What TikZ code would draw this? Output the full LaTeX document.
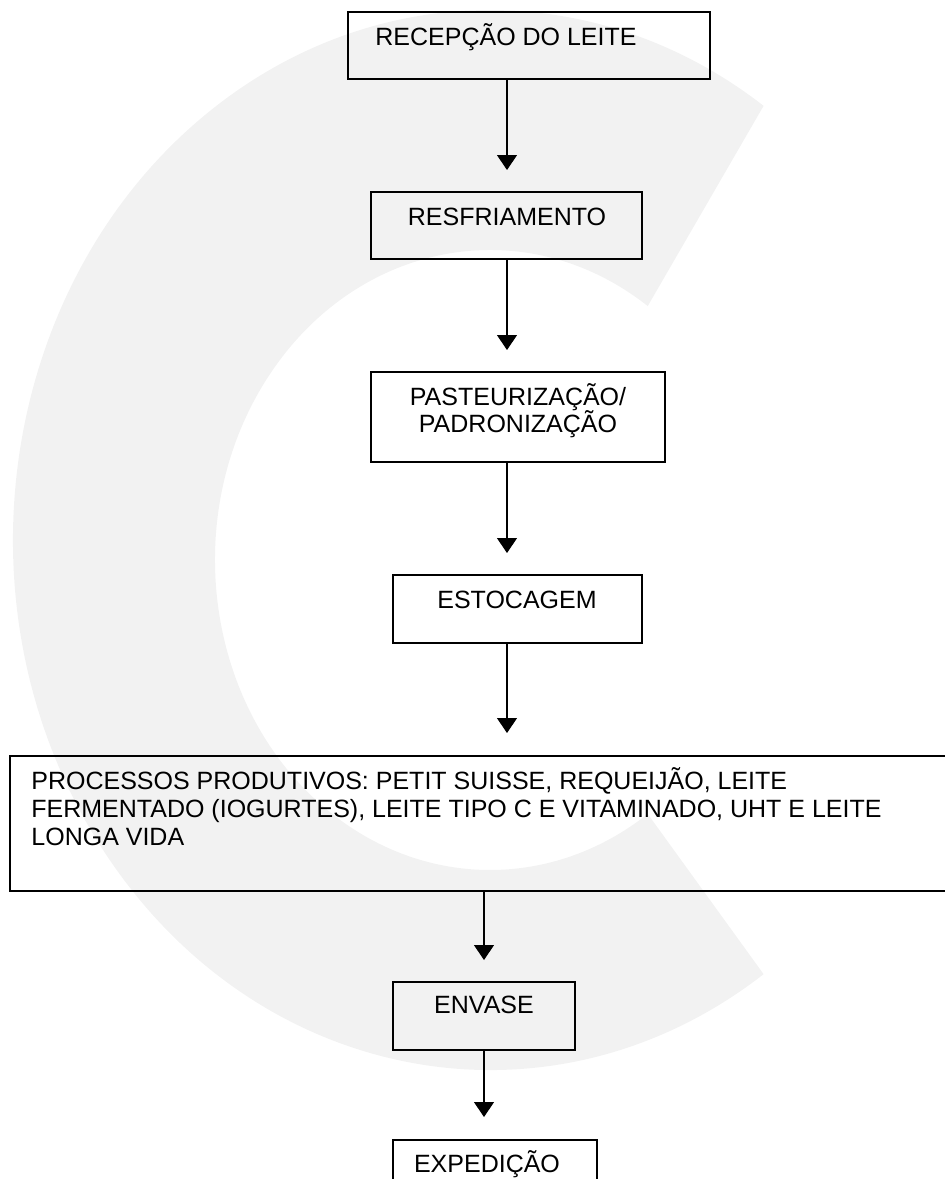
\documentclass[tikz,border=0pt]{standalone}
\usepackage{fontspec}
\setmainfont{Liberation Sans}
\usetikzlibrary{arrows.meta,calc}
\tikzset{
	etapa/.style 2 args={draw, line width=0.6pt, inner sep=0pt, minimum width=#1*0.5pt, minimum height=#2*0.5pt},
	rotulo/.style={font=\fontsize{12.5}{14}\selectfont, inner sep=0pt, anchor=base},
	seta/.style={line width=0.6pt, -{Triangle[width=10pt,length=7.5pt]}}
}
\begin{document}
\begin{tikzpicture}[x=0.5pt, y=-0.5pt, line join=miter]
	\useasboundingbox (0,0) rectangle (945,1179);
	% marca d'agua
	\fill[black!5] ($(490,540)+(55:477 and 530)$) arc[start angle=55, end angle=305, x radius=477, y radius=530]
		-- ($(490,560)+(305:275 and 310)$) arc[start angle=305, end angle=55, x radius=275, y radius=310] -- cycle;
	% caixas
	\node[etapa={362}{67}] (recepcao) at (529,45.5) {};
	\node[etapa={271}{67}] (resfriamento) at (506.5,225.5) {};
	\node[etapa={294}{90}] (pasteurizacao) at (518,417) {};
	\node[etapa={249}{68}] (estocagem) at (517.5,609) {};
	\node[etapa={950}{135}] (processos) at (485,823.5) {};
	\node[etapa={182}{68}] (envase) at (484,1016) {};
	\node[etapa={204}{68}] (expedicao) at (495,1174) {};
	% textos
	\node[rotulo] (t-recepcao) at (506,45) {RECEPÇÃO DO LEITE};
	\node[rotulo] (t-resfriamento) at (507,225) {RESFRIAMENTO};
	\node[rotulo] (t-pasteurizacao) at (518,405) {PASTEURIZAÇÃO/};
	\node[rotulo] (t-padronizacao) at (518,432) {PADRONIZAÇÃO};
	\node[rotulo] (t-estocagem) at (517,608) {ESTOCAGEM};
	\foreach \n/\y/\txt in {1/789/{PROCESSOS PRODUTIVOS: PETIT SUISSE, REQUEIJÃO, LEITE},
		2/817/{FERMENTADO (IOGURTES), LEITE TIPO C E VITAMINADO, UHT E LEITE},
		3/845/{LONGA VIDA}}{
		\node[rotulo, anchor=base west] (t-processos-\n) at (31,\y) {\txt};
	}
	\node[rotulo] (t-envase) at (484,1013) {ENVASE};
	\node[rotulo] (t-expedicao) at (487,1172) {EXPEDIÇÃO};
	% setas
	\path
	(507,170) coordinate (a1)
	(507,350) coordinate (a2)
	(507,553) coordinate (a3)
	(507,733) coordinate (a4)
	(484,960) coordinate (a5)
	(484,1117) coordinate (a6)
	;
	\draw[seta] (recepcao.south -| a1) -- (a1);
	\draw[seta] (resfriamento.south -| a2) -- (a2);
	\draw[seta] (pasteurizacao.south -| a3) -- (a3);
	\draw[seta] (estocagem.south -| a4) -- (a4);
	\draw[seta] (processos.south -| a5) -- (a5);
	\draw[seta] (envase.south -| a6) -- (a6);
\end{tikzpicture}
\end{document}
